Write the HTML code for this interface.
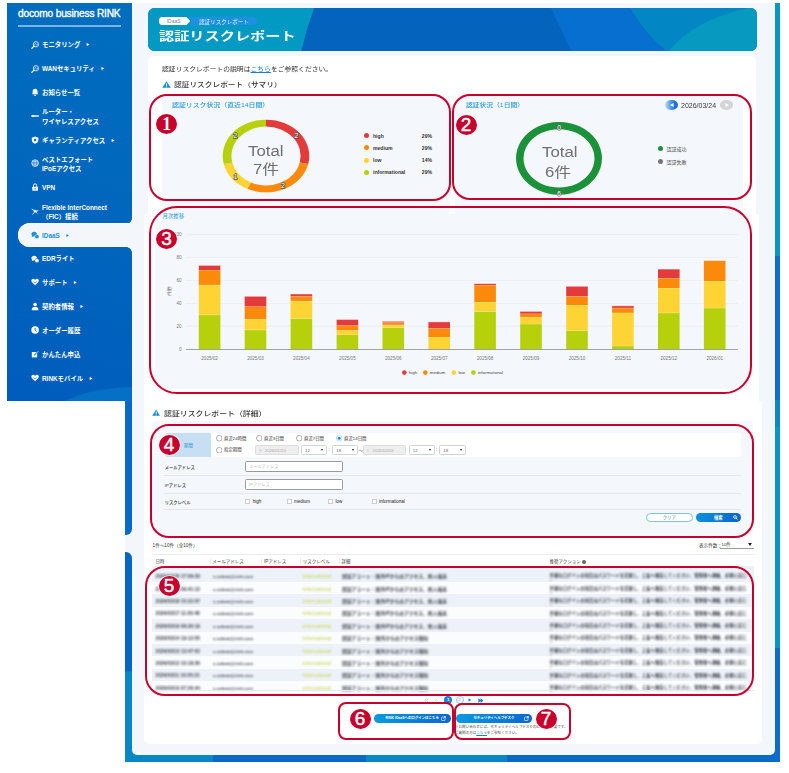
<!DOCTYPE html>
<html lang="ja"><head><meta charset="utf-8">
<style>
*{box-sizing:border-box;margin:0;padding:0}
html,body{width:789px;height:773px;overflow:hidden;background:#fff}
body{position:relative;font-family:"Liberation Sans","Noto Sans CJK JP",sans-serif;color:#333}
.a{position:absolute}
/* frame */
#frame{left:125px;top:3px;width:655px;height:759px;background:#0869c6}
#rstrip{left:774.7px;top:3px;width:5.3px;height:759px;background:linear-gradient(180deg,#0a96c2 0,#0a96c2 252.7px,#0a6fca 252.7px,#0a6fca 397.5px,#0a88c2 397.5px,#0a88c2 424px,#0a96c4 424px,#0a96c4 645.4px,#0a6ccb 645.4px)}
#lstrip1{left:125px;top:395px;width:7px;height:140px;background:#0869c6;border-bottom-right-radius:6px}
#lstrip2{left:125px;top:552px;width:7px;height:210px;background:linear-gradient(180deg,#0666c6 0,#0666c6 118.5px,#0887c4 120px);border-top-right-radius:6px}
#bg{left:132px;top:3px;width:642.7px;height:752px;background:#f3f7fb;border-radius:0 0 5px 5px}
/* sidebar */
#side{left:7px;top:3px;width:125px;height:398px;background:linear-gradient(200deg,#006ebf 0%,#0068bd 40%,#005cbd 100%);overflow:hidden}
#side .ttl{position:absolute;left:11px;top:5px;font-size:10.2px;color:#fff;letter-spacing:-0.2px;white-space:nowrap;-webkit-text-stroke:0.35px #fff}
#side .ln{position:absolute;left:11px;top:22.3px;width:103px;height:1.6px;background:#7db3e6}
.mi{position:absolute;left:24px;color:#fff;font-weight:bold;font-size:6.4px;line-height:9.2px;white-space:nowrap}
.mi .ic{position:absolute;left:-0.5px;width:8.2px;height:8.2px;margin-top:-0.8px}
.mi .tx{position:absolute;left:11px;top:0}
.car{font-size:3.2px;margin-left:6px;vertical-align:1px}
#pill{left:11px;top:220.3px;width:114px;height:24px;background:#f3f7fb;border-radius:12px 0 0 12px;box-shadow:inset 1px 1px 0 #fff,inset 0 -1px 0 #fff}
#cut1{left:113px;top:208px;width:12px;height:14px;background:#f3f7fb}
#cut2{left:113px;top:243px;width:12px;height:14px;background:#f3f7fb}

.red{position:absolute;border:2px solid #c8002d;border-radius:14px}
.badge{position:absolute;width:21px;height:20px;border-radius:50%;background:#c8002d;color:#fff;font-family:"Liberation Sans",sans-serif;font-size:19px;line-height:20.5px;text-align:center;box-shadow:0 0 0 0.8px rgba(255,255,255,.7);-webkit-text-stroke:0.45px #fff}
.card{position:absolute;background:#fff}
.panel{position:absolute;background:#f4f7fb}
.t6{font-size:6.4px;white-space:nowrap}

.dtxt{font-size:14px;color:#707070;white-space:nowrap;transform:scaleX(1.2);transform-origin:0 0}
.lg{font-size:5.1px;font-weight:bold;color:#333;white-space:nowrap;width:68px;line-height:6px}
.lg i{display:inline-block;width:5px;height:5px;border-radius:50%;margin-right:4px;vertical-align:-0.5px}
.lg b{position:absolute;right:0;top:0}
.lg2{font-size:5px;color:#444;white-space:nowrap;line-height:6px}
.lg2 i{display:inline-block;width:5px;height:5px;border-radius:50%;margin-right:4px;vertical-align:0}

.fl{position:absolute;font-size:4.3px;color:#333;font-weight:500;white-space:nowrap}
.rd{position:absolute;font-size:4.4px;color:#333;white-space:nowrap;line-height:6px}
.rd svg{position:absolute;left:-8.2px;top:-0.3px}
.sel{position:absolute;height:10.7px;border:0.6px solid #d0d4d8;border-radius:1.5px;background:#fff;font-size:4.4px;color:#666;line-height:9.5px;padding-left:3px}
.sel::after{content:"";position:absolute;right:3px;top:3.8px;border:1.9px solid transparent;border-top:2.4px solid #222;border-bottom:0}
.din{position:absolute;height:10.7px;border:0.6px solid #dcdcdc;border-radius:1.5px;background:#eeeeee;font-size:4.2px;color:#aaa;line-height:9.5px;padding-left:9px}
.din::before{content:"";position:absolute;left:3.3px;top:3.6px;width:2.6px;height:2.6px;background:#e0e0e0}
.inp{position:absolute;height:10.8px;border:0.8px solid #9a9a9a;border-radius:1.5px;background:#fff;font-size:4.2px;color:#bbb;line-height:9.4px;padding-left:3.5px;white-space:nowrap}
.cb{position:absolute;font-size:4.5px;color:#222;white-space:nowrap;line-height:5px;font-weight:500}
.cb i{position:absolute;left:-7px;top:0.2px;width:4.3px;height:4.3px;border:0.45px solid #777;border-radius:0.6px;background:#fff}
.sep{position:absolute;height:0.6px;background:#e4e7eb}

.th{position:absolute;font-size:4.5px;color:#3a3a3a;white-space:nowrap;font-weight:400}
.bl{position:absolute;height:4px;border-radius:2px;filter:blur(1.3px)}

.bt{position:absolute;font-size:4.8px;line-height:5px;color:#3a3f46;font-weight:bold;white-space:nowrap;filter:blur(1.15px)}
</style></head><body>
<div id="frame" class="a"></div>
<div id="bot1" class="a" style="left:125px;top:740px;width:382px;height:22px;background:linear-gradient(90deg,#0887c4 0,#0887c4 88px,#0a68c6 88px,#0a68c6 241px,#0887c4 241px)"></div>
<div id="bot2" class="a" style="left:507px;top:740px;width:273px;height:22px;background:#0869c6"></div>
<div id="rstrip" class="a"></div>
<div id="lgap" class="a" style="left:125px;top:520px;width:7px;height:50px;background:#f3f7fb"></div>
<div id="lstrip1" class="a"></div>
<div id="lstrip2" class="a"></div>
<div id="bg" class="a"></div>

<div id="side" class="a">
  <div class="ttl">docomo business RINK</div>
  <div class="ln"></div>
  <div id="pill" class="a"></div>
  <div class="a" style="left:119px;top:214.5px;width:6px;height:6px;background:radial-gradient(circle at 0 0,transparent 5.6px,#f3f7fb 6.2px)"></div>
  <div class="a" style="left:119px;top:244px;width:6px;height:6px;background:radial-gradient(circle at 0 100%,transparent 5.6px,#f3f7fb 6.2px)"></div>
  <div class="a" style="left:45px;top:384px;width:170px;height:60px;background:#0570c6;border-radius:50%"></div>
  <div class="mi" style="top:37.3px"><svg class="ic" viewBox="0 0 10 10" style="top:1px"><circle cx="6" cy="4" r="3.2" fill="none" stroke="#fff" stroke-width="1"/><path d="M3.7 6.3L1 9" stroke="#fff" stroke-width="1.5" stroke-linecap="round"/><path d="M3.6 4.2h1.2l.8-1.4 1 2.4.7-1h1.2" stroke="#fff" stroke-width=".6" fill="none"/></svg><div class="tx">モニタリング<span class="car">&#9654;</span></div></div>
  <div class="mi" style="top:61.3px"><svg class="ic" viewBox="0 0 10 10" style="top:1px"><circle cx="6" cy="4" r="3.2" fill="none" stroke="#fff" stroke-width="1"/><path d="M3.7 6.3L1 9" stroke="#fff" stroke-width="1.5" stroke-linecap="round"/><path d="M3.6 4.2h1.2l.8-1.4 1 2.4.7-1h1.2" stroke="#fff" stroke-width=".6" fill="none"/></svg><div class="tx">WANセキュリティ<span class="car">&#9654;</span></div></div>
  <div class="mi" style="top:84.9px"><svg class="ic" viewBox="0 0 10 10" style="top:1px"><path d="M5 1c2 0 3 1.5 3 3.5v2l1 1.2H1l1-1.2v-2C2 2.5 3 1 5 1z" fill="#fff"/><circle cx="5" cy="9" r="1" fill="#fff"/></svg><div class="tx">お知らせ一覧</div></div>
  <div class="mi" style="top:104.3px"><svg class="ic" viewBox="0 0 10 10" style="top:5px"><rect x="0.5" y="3.6" width="9" height="2.6" rx=".4" fill="#e8f0fa"/><rect x="4.5" y="4.4" width="1" height="1" fill="#0866c4"/><rect x="6.3" y="4.4" width="1" height="1" fill="#0866c4"/><rect x="8" y="4.4" width=".8" height="1" fill="#0866c4"/></svg><div class="tx">ルーター・<br>ワイヤレスアクセス</div></div>
  <div class="mi" style="top:132.5px"><svg class="ic" viewBox="0 0 10 10" style="top:1px"><path d="M5 .5l4 1.5v3c0 2.5-2 4-4 4.5C3 9 1 7.5 1 5V2z" fill="#fff"/><circle cx="5" cy="4.8" r="1.5" fill="#0866c4"/></svg><div class="tx">ギャランティアクセス<span class="car">&#9654;</span></div></div>
  <div class="mi" style="top:151.5px"><svg class="ic" viewBox="0 0 10 10" style="top:5px"><circle cx="5" cy="5" r="4" fill="none" stroke="#fff" stroke-width="1"/><path d="M1 5h8M5 1v8M2 3h6M2 7h6" stroke="#fff" stroke-width=".7"/></svg><div class="tx">ベストエフォート<br>IPoEアクセス</div></div>
  <div class="mi" style="top:179.9px"><svg class="ic" viewBox="0 0 10 10" style="top:1px"><rect x="1.5" y="4.5" width="7" height="5" rx=".8" fill="#fff"/><path d="M3 4.8V3a2 2 0 014 0v1.8" fill="none" stroke="#fff" stroke-width="1.2"/><rect x="4.5" y="6" width="1" height="2" fill="#0866c4"/></svg><div class="tx">VPN</div></div>
  <div class="mi" style="top:199.8px"><svg class="ic" viewBox="0 0 10 10" style="top:5px"><path d="M1 2.5l3 1.8M9 4.5l-3 .5M4 6.5l-2 2.5M6.2 6.4l1.5 1.2" stroke="#fff" stroke-width="1.1" fill="none"/><circle cx="5" cy="5.2" r="1.6" fill="#fff"/></svg><div class="tx">Flexible InterConnect<br>（FIC）接続</div></div>
  <div class="mi" style="top:227.7px;color:#1d8fd6"><svg class="ic" viewBox="0 0 10 10" style="top:1px"><path d="M0.5 3.8C0.5 1.9 2 .8 3.9 .8S7.3 1.9 7.3 3.8 5.8 6.8 3.9 6.8c-.5 0-1-.1-1.4-.2L.8 7.6l.6-1.6C.8 5.4.5 4.6.5 3.8z" fill="#1d8fd6"/><path d="M4.6 6.9c0-1.5 1.2-2.6 2.6-2.6s2.6 1.1 2.6 2.6c0 .6-.2 1.1-.5 1.5l.5 1.3-1.4-.7c-.4.2-.8.3-1.2.3-1.4 0-2.6-1-2.6-2.4z" fill="#1d8fd6" stroke="#f3f7fb" stroke-width=".7"/></svg><div class="tx">IDaaS<span class="car">&#9654;</span></div></div>
  <div class="mi" style="top:251.3px"><svg class="ic" viewBox="0 0 10 10" style="top:1px"><path d="M0.5 3.8C0.5 1.9 2 .8 3.9 .8S7.3 1.9 7.3 3.8 5.8 6.8 3.9 6.8c-.5 0-1-.1-1.4-.2L.8 7.6l.6-1.6C.8 5.4.5 4.6.5 3.8z" fill="#fff"/><path d="M4.6 6.9c0-1.5 1.2-2.6 2.6-2.6s2.6 1.1 2.6 2.6c0 .6-.2 1.1-.5 1.5l.5 1.3-1.4-.7c-.4.2-.8.3-1.2.3-1.4 0-2.6-1-2.6-2.4z" fill="#fff" stroke="#0864c3" stroke-width=".7"/></svg><div class="tx">EDRライト</div></div>
  <div class="mi" style="top:275.1px"><svg class="ic" viewBox="0 0 10 10" style="top:1px"><path d="M5 9L1.2 5.2C-.2 3.8.5 1 2.8 1 4 1 4.6 1.8 5 2.4 5.4 1.8 6 1 7.2 1c2.3 0 3 2.8 1.6 4.2z" fill="#fff"/><path d="M3 4.5l2 1.5 2-1.5" stroke="#0866c4" stroke-width=".8" fill="none"/></svg><div class="tx">サポート<span class="car">&#9654;</span></div></div>
  <div class="mi" style="top:299.2px"><svg class="ic" viewBox="0 0 10 10" style="top:1px"><circle cx="5" cy="3" r="2.2" fill="#fff"/><path d="M.8 10c0-3 1.8-4.3 4.2-4.3S9.2 7 9.2 10z" fill="#fff"/></svg><div class="tx">契約者情報<span class="car">&#9654;</span></div></div>
  <div class="mi" style="top:322.5px"><svg class="ic" viewBox="0 0 10 10" style="top:1px"><circle cx="5" cy="5" r="4.6" fill="#fff"/><path d="M5 2.3V5.3l2 1.3" stroke="#0866c4" stroke-width="1.1" fill="none"/></svg><div class="tx">オーダー履歴</div></div>
  <div class="mi" style="top:346.9px"><svg class="ic" viewBox="0 0 10 10" style="top:1px"><rect x="1" y="2.5" width="6.5" height="6.5" fill="#fff"/><path d="M4 6.5l4.8-4.8" stroke="#0866c4" stroke-width="1.6"/><path d="M4.3 6.2l4.8-4.8" stroke="#fff" stroke-width=".8"/></svg><div class="tx">かんたん申込</div></div>
  <div class="mi" style="top:370.5px"><svg class="ic" viewBox="0 0 10 10" style="top:1px"><path d="M5 9L1.2 5.2C-.2 3.8.5 1 2.8 1 4 1 4.6 1.8 5 2.4 5.4 1.8 6 1 7.2 1c2.3 0 3 2.8 1.6 4.2z" fill="#fff"/><path d="M3 4.5l2 1.5 2-1.5" stroke="#0866c4" stroke-width=".8" fill="none"/></svg><div class="tx">RINKモバイル<span class="car">&#9654;</span></div></div>
</div>


<!-- header banner -->
<div class="a" style="left:148px;top:7.5px;width:608.5px;height:43.5px;border-radius:6.5px;overflow:hidden">
<svg width="609" height="44" viewBox="0 0 609 44" style="position:absolute;left:0;top:0">
<rect width="609" height="44" fill="#0463bc"/>
<path d="M0 0H166Q158 22 153 44H0z" fill="#029ac3"/>
<path d="M403 0H482Q500 30 520 44H424Q412 20 403 0z" fill="#066fcf"/>
<path d="M482 0H609V44H520Q500 30 482 0z" fill="#0386c4"/>
<path d="M520 44Q545 12 600 0H609V44z" fill="#0899c1"/>
</svg>
<div class="a" style="left:10.5px;top:9.3px;width:31.8px;height:8.4px;background:#fff;clip-path:polygon(0 0,87% 0,100% 50%,87% 100%,0 100%);border-radius:4px 0 0 4px"></div>
<div class="a" style="left:10.5px;top:9.3px;width:27px;height:8.4px;background:#fff;border-radius:4.2px"></div>
<div class="a" style="left:18.7px;top:10.3px;font-size:5px;color:#7a8a99">IDaaS</div>
<div class="a" style="left:40px;top:9.3px;width:69.2px;height:8.4px;background:#1e90e0;border-radius:0 4.2px 4.2px 0;clip-path:polygon(0 0,100% 0,100% 100%,0 100%,4px 50%)"></div>
<div class="a" style="left:51px;top:10.3px;font-size:5.2px;color:#eaf6ff;white-space:nowrap;transform:scaleX(1.07);transform-origin:0 0">認証リスクレポート</div>
<div class="a" style="left:11px;top:19.7px;font-size:12px;font-weight:bold;color:#fff;white-space:nowrap;transform:scaleX(1.265);transform-origin:0 0">認証リスクレポート</div>
</div>

<!-- section A card -->
<div class="card" style="left:147.5px;top:56px;width:608.5px;height:160px;border-radius:6px 6px 0 0"></div>
<div class="a t6" style="left:162px;top:63.8px;color:#333;font-size:6.2px;transform:scaleX(1.1);transform-origin:0 0">認証リスクレポートの説明は<span style="color:#1a7fd0;text-decoration:underline">こちら</span>をご参照ください。</div>
<svg class="a" style="left:161.8px;top:80.8px" width="9" height="7" viewBox="0 0 9 7"><path d="M4.5 0.3L8.8 6.8H0.2z" fill="#1a8fd4"/><rect x="4" y="2.3" width="1" height="2.6" fill="#fff"/><rect x="4" y="5.4" width="1" height="0.9" fill="#fff"/></svg>
<div class="a" style="left:173.8px;top:79.3px;font-size:6.7px;color:#333;font-weight:500;white-space:nowrap;transform:scaleX(1.15);transform-origin:0 0">認証リスクレポート（サマリ）</div>
<div class="panel" style="left:161.5px;top:95.5px;width:288.5px;height:118.2px;border-radius:4px"></div>
<div class="panel" style="left:455px;top:95.5px;width:288px;height:118.2px;border-radius:4px"></div>


<svg class="a" style="left:0;top:0" width="789" height="773" viewBox="0 0 789 773">
<path d="M266.00 119.70A43.3 36.3 0 0 1 308.21 164.08L299.73 162.56A34.6 29.5 0 0 0 266.00 126.50Z" fill="#e33b3b"/><path d="M308.21 164.08A43.3 36.3 0 0 1 247.21 188.71L250.99 182.58A34.6 29.5 0 0 0 299.73 162.56Z" fill="#fb8a0a"/><path d="M247.21 188.71A43.3 36.3 0 0 1 223.79 164.08L232.27 162.56A34.6 29.5 0 0 0 250.99 182.58Z" fill="#fdd433"/><path d="M223.79 164.08A43.3 36.3 0 0 1 266.00 119.70L266.00 126.50A34.6 29.5 0 0 0 232.27 162.56Z" fill="#b6d00b"/>
<g font-family="Liberation Sans" font-size="7" fill="#fff" stroke="#555" stroke-width="1.3" paint-order="stroke" text-anchor="middle"><text x="296.5" y="138.1">2</text><text x="282.9" y="188.2">2</text><text x="235.5" y="179.1">1</text><text x="235.5" y="138.1">2</text></g>
<path d="M559 121.9A43 36.4 0 1 1 558.99 121.9M559 129.2A35.5 29.2 0 1 0 559.01 129.2Z" fill="#1b9139" fill-rule="evenodd"/>
<g font-family="Liberation Sans" font-size="6.5" fill="#fff" stroke="#666" stroke-width="1.2" paint-order="stroke" text-anchor="middle"><text x="559" y="129.6">0</text><text x="559" y="196">6</text></g>
</svg>
<div class="a" style="left:172px;top:99.8px;font-size:5.9px;color:#2a9ad6;font-weight:500;white-space:nowrap;transform:scaleX(1.17);transform-origin:0 0">認証リスク状況（直近14日間）</div>
<div class="a" style="left:465.5px;top:99.8px;font-size:5.9px;color:#2a9ad6;font-weight:500;white-space:nowrap;transform:scaleX(1.15);transform-origin:0 0">認証状況（1日間）</div>
<div class="a dtxt" style="left:248px;top:142.6px">Total</div>
<div class="a dtxt" style="left:252.5px;top:158px">7件</div>
<div class="a dtxt" style="left:541.5px;top:143.8px">Total</div>
<div class="a dtxt" style="left:545px;top:161.4px">6件</div>
<div class="a lg" style="left:364px;top:132.5px"><i style="background:#e33b3b"></i>high<b>29%</b></div>
<div class="a lg" style="left:364px;top:144.8px"><i style="background:#fb8a0a"></i>medium<b>29%</b></div>
<div class="a lg" style="left:364px;top:157px"><i style="background:#fdd433"></i>low<b>14%</b></div>
<div class="a lg" style="left:364px;top:169.2px"><i style="background:#b6d00b"></i>informational<b>29%</b></div>
<div class="a lg2" style="left:657.5px;top:146px"><i style="background:#1b9139"></i>認証成功</div>
<div class="a lg2" style="left:657.5px;top:158.8px"><i style="background:#777"></i>認証失敗</div>
<div class="a" style="left:665.4px;top:99.6px;width:12.6px;height:10.3px;border-radius:50%;background:linear-gradient(90deg,#c0dcf4 0%,#5aa2e6 40%,#1c72d8 75%,#1a6ad4 100%)"></div>
<svg class="a" style="left:668.8px;top:101.8px" width="6" height="6" viewBox="0 0 6 6"><path d="M1 3L4.6 0.9V5.1z" fill="#fff"/></svg>
<div class="a" style="left:681px;top:101.8px;font-size:6.8px;color:#3a3a3a;white-space:nowrap;transform:scaleX(1.03);transform-origin:0 0">2026/03/24</div>
<div class="a" style="left:720px;top:99.6px;width:12.6px;height:10.3px;border-radius:50%;background:#d3d4d6"></div>
<svg class="a" style="left:723.6px;top:101.8px" width="6" height="6" viewBox="0 0 6 6"><path d="M5 3L1.4 0.9V5.1z" fill="#fff"/></svg>


<!-- section B -->
<div class="card" style="left:144.3px;top:213.7px;width:614.7px;height:188px"></div>
<div class="panel" style="left:155px;top:213.7px;width:594px;height:175.7px"></div>
<div class="a" style="left:162.5px;top:212.2px;font-size:5.4px;color:#2a9ad6;white-space:nowrap">月次推移</div>
<svg class="a" style="left:0;top:0" width="789" height="773" viewBox="0 0 789 773"><g font-family="Liberation Sans" font-size="4.6" fill="#777"><line x1="186" y1="234.4" x2="738" y2="234.4" stroke="#e6e9ee" stroke-width="0.6"/><line x1="186" y1="257.4" x2="738" y2="257.4" stroke="#e6e9ee" stroke-width="0.6"/><line x1="186" y1="280.5" x2="738" y2="280.5" stroke="#e6e9ee" stroke-width="0.6"/><line x1="186" y1="303.5" x2="738" y2="303.5" stroke="#e6e9ee" stroke-width="0.6"/><line x1="186" y1="326.2" x2="738" y2="326.2" stroke="#e6e9ee" stroke-width="0.6"/><text x="181.6" y="236.1" text-anchor="end">100</text><text x="181.6" y="259.09999999999997" text-anchor="end">80</text><text x="181.6" y="282.2" text-anchor="end">60</text><text x="181.6" y="305.2" text-anchor="end">40</text><text x="181.6" y="327.9" text-anchor="end">20</text><text x="181.6" y="351.0" text-anchor="end">0</text><rect x="198.8" y="314.8" width="21.6" height="34.5" fill="#b6d00b"/><line x1="198.8" y1="314.8" x2="220.4" y2="314.8" stroke="#fff" stroke-width="0.5" opacity=".8"/><rect x="198.8" y="284.9" width="21.6" height="29.9" fill="#fdd433"/><line x1="198.8" y1="284.9" x2="220.4" y2="284.9" stroke="#fff" stroke-width="0.5" opacity=".8"/><rect x="198.8" y="270" width="21.6" height="14.9" fill="#fb8a0a"/><line x1="198.8" y1="270" x2="220.4" y2="270" stroke="#fff" stroke-width="0.5" opacity=".8"/><rect x="198.8" y="265.4" width="21.6" height="4.6" fill="#e33b3b"/><line x1="198.8" y1="265.4" x2="220.4" y2="265.4" stroke="#fff" stroke-width="0.5" opacity=".8"/><text text-anchor="middle" x="209.6" y="360">2025/02</text><rect x="244.7" y="329.8" width="21.6" height="19.5" fill="#b6d00b"/><line x1="244.7" y1="329.8" x2="266.3" y2="329.8" stroke="#fff" stroke-width="0.5" opacity=".8"/><rect x="244.7" y="319.1" width="21.6" height="10.7" fill="#fdd433"/><line x1="244.7" y1="319.1" x2="266.3" y2="319.1" stroke="#fff" stroke-width="0.5" opacity=".8"/><rect x="244.7" y="306.5" width="21.6" height="12.6" fill="#fb8a0a"/><line x1="244.7" y1="306.5" x2="266.3" y2="306.5" stroke="#fff" stroke-width="0.5" opacity=".8"/><rect x="244.7" y="296.3" width="21.6" height="10.2" fill="#e33b3b"/><line x1="244.7" y1="296.3" x2="266.3" y2="296.3" stroke="#fff" stroke-width="0.5" opacity=".8"/><text text-anchor="middle" x="255.5" y="360">2025/03</text><rect x="290.6" y="318.4" width="21.6" height="30.9" fill="#b6d00b"/><line x1="290.6" y1="318.4" x2="312.2" y2="318.4" stroke="#fff" stroke-width="0.5" opacity=".8"/><rect x="290.6" y="300.9" width="21.6" height="17.5" fill="#fdd433"/><line x1="290.6" y1="300.9" x2="312.2" y2="300.9" stroke="#fff" stroke-width="0.5" opacity=".8"/><rect x="290.6" y="296.3" width="21.6" height="4.6" fill="#fb8a0a"/><line x1="290.6" y1="296.3" x2="312.2" y2="296.3" stroke="#fff" stroke-width="0.5" opacity=".8"/><rect x="290.6" y="294" width="21.6" height="2.3" fill="#e33b3b"/><line x1="290.6" y1="294" x2="312.2" y2="294" stroke="#fff" stroke-width="0.5" opacity=".8"/><text text-anchor="middle" x="301.4" y="360">2025/04</text><rect x="336.6" y="334.7" width="21.6" height="14.6" fill="#b6d00b"/><line x1="336.6" y1="334.7" x2="358.2" y2="334.7" stroke="#fff" stroke-width="0.5" opacity=".8"/><rect x="336.6" y="330.3" width="21.6" height="4.4" fill="#fdd433"/><line x1="336.6" y1="330.3" x2="358.2" y2="330.3" stroke="#fff" stroke-width="0.5" opacity=".8"/><rect x="336.6" y="325.4" width="21.6" height="4.9" fill="#fb8a0a"/><line x1="336.6" y1="325.4" x2="358.2" y2="325.4" stroke="#fff" stroke-width="0.5" opacity=".8"/><rect x="336.6" y="319.5" width="21.6" height="5.9" fill="#e33b3b"/><line x1="336.6" y1="319.5" x2="358.2" y2="319.5" stroke="#fff" stroke-width="0.5" opacity=".8"/><text text-anchor="middle" x="347.4" y="360">2025/05</text><rect x="382.5" y="327.4" width="21.6" height="21.9" fill="#b6d00b"/><line x1="382.5" y1="327.4" x2="404.1" y2="327.4" stroke="#fff" stroke-width="0.5" opacity=".8"/><rect x="382.5" y="324.8" width="21.6" height="2.6" fill="#fdd433"/><line x1="382.5" y1="324.8" x2="404.1" y2="324.8" stroke="#fff" stroke-width="0.5" opacity=".8"/><rect x="382.5" y="322.4" width="21.6" height="2.4" fill="#fb8a0a"/><line x1="382.5" y1="322.4" x2="404.1" y2="322.4" stroke="#fff" stroke-width="0.5" opacity=".8"/><rect x="382.5" y="321.3" width="21.6" height="1.1" fill="#e33b3b"/><line x1="382.5" y1="321.3" x2="404.1" y2="321.3" stroke="#fff" stroke-width="0.5" opacity=".8"/><text text-anchor="middle" x="393.3" y="360">2025/06</text><rect x="428.4" y="337" width="21.6" height="12.3" fill="#fdd433"/><line x1="428.4" y1="337" x2="450.0" y2="337" stroke="#fff" stroke-width="0.5" opacity=".8"/><rect x="428.4" y="328.3" width="21.6" height="8.7" fill="#fb8a0a"/><line x1="428.4" y1="328.3" x2="450.0" y2="328.3" stroke="#fff" stroke-width="0.5" opacity=".8"/><rect x="428.4" y="321.9" width="21.6" height="6.4" fill="#e33b3b"/><line x1="428.4" y1="321.9" x2="450.0" y2="321.9" stroke="#fff" stroke-width="0.5" opacity=".8"/><text text-anchor="middle" x="439.2" y="360">2025/07</text><rect x="474.3" y="311.4" width="21.6" height="37.9" fill="#b6d00b"/><line x1="474.3" y1="311.4" x2="495.9" y2="311.4" stroke="#fff" stroke-width="0.5" opacity=".8"/><rect x="474.3" y="302" width="21.6" height="9.4" fill="#fdd433"/><line x1="474.3" y1="302" x2="495.9" y2="302" stroke="#fff" stroke-width="0.5" opacity=".8"/><rect x="474.3" y="285.1" width="21.6" height="16.9" fill="#fb8a0a"/><line x1="474.3" y1="285.1" x2="495.9" y2="285.1" stroke="#fff" stroke-width="0.5" opacity=".8"/><rect x="474.3" y="283.7" width="21.6" height="1.4" fill="#e33b3b"/><line x1="474.3" y1="283.7" x2="495.9" y2="283.7" stroke="#fff" stroke-width="0.5" opacity=".8"/><text text-anchor="middle" x="485.1" y="360">2025/08</text><rect x="520.2" y="323.9" width="21.6" height="25.4" fill="#b6d00b"/><line x1="520.2" y1="323.9" x2="541.8" y2="323.9" stroke="#fff" stroke-width="0.5" opacity=".8"/><rect x="520.2" y="317.2" width="21.6" height="6.7" fill="#fdd433"/><line x1="520.2" y1="317.2" x2="541.8" y2="317.2" stroke="#fff" stroke-width="0.5" opacity=".8"/><rect x="520.2" y="313.7" width="21.6" height="3.5" fill="#fb8a0a"/><line x1="520.2" y1="313.7" x2="541.8" y2="313.7" stroke="#fff" stroke-width="0.5" opacity=".8"/><rect x="520.2" y="311.4" width="21.6" height="2.3" fill="#e33b3b"/><line x1="520.2" y1="311.4" x2="541.8" y2="311.4" stroke="#fff" stroke-width="0.5" opacity=".8"/><text text-anchor="middle" x="531.0" y="360">2025/09</text><rect x="566.2" y="330.6" width="21.6" height="18.7" fill="#b6d00b"/><line x1="566.2" y1="330.6" x2="587.8" y2="330.6" stroke="#fff" stroke-width="0.5" opacity=".8"/><rect x="566.2" y="305" width="21.6" height="25.6" fill="#fdd433"/><line x1="566.2" y1="305" x2="587.8" y2="305" stroke="#fff" stroke-width="0.5" opacity=".8"/><rect x="566.2" y="296.2" width="21.6" height="8.8" fill="#fb8a0a"/><line x1="566.2" y1="296.2" x2="587.8" y2="296.2" stroke="#fff" stroke-width="0.5" opacity=".8"/><rect x="566.2" y="286.3" width="21.6" height="9.9" fill="#e33b3b"/><line x1="566.2" y1="286.3" x2="587.8" y2="286.3" stroke="#fff" stroke-width="0.5" opacity=".8"/><text text-anchor="middle" x="577.0" y="360">2025/10</text><rect x="612.1" y="345.8" width="21.6" height="3.5" fill="#b6d00b"/><line x1="612.1" y1="345.8" x2="633.7" y2="345.8" stroke="#fff" stroke-width="0.5" opacity=".8"/><rect x="612.1" y="312.8" width="21.6" height="33.0" fill="#fdd433"/><line x1="612.1" y1="312.8" x2="633.7" y2="312.8" stroke="#fff" stroke-width="0.5" opacity=".8"/><rect x="612.1" y="307.9" width="21.6" height="4.9" fill="#fb8a0a"/><line x1="612.1" y1="307.9" x2="633.7" y2="307.9" stroke="#fff" stroke-width="0.5" opacity=".8"/><rect x="612.1" y="305.8" width="21.6" height="2.1" fill="#e33b3b"/><line x1="612.1" y1="305.8" x2="633.7" y2="305.8" stroke="#fff" stroke-width="0.5" opacity=".8"/><text text-anchor="middle" x="622.9" y="360">2025/11</text><rect x="658.0" y="312.8" width="21.6" height="36.5" fill="#b6d00b"/><line x1="658.0" y1="312.8" x2="679.6" y2="312.8" stroke="#fff" stroke-width="0.5" opacity=".8"/><rect x="658.0" y="288" width="21.6" height="24.8" fill="#fdd433"/><line x1="658.0" y1="288" x2="679.6" y2="288" stroke="#fff" stroke-width="0.5" opacity=".8"/><rect x="658.0" y="278.1" width="21.6" height="9.9" fill="#fb8a0a"/><line x1="658.0" y1="278.1" x2="679.6" y2="278.1" stroke="#fff" stroke-width="0.5" opacity=".8"/><rect x="658.0" y="269.1" width="21.6" height="9.0" fill="#e33b3b"/><line x1="658.0" y1="269.1" x2="679.6" y2="269.1" stroke="#fff" stroke-width="0.5" opacity=".8"/><text text-anchor="middle" x="668.8" y="360">2025/12</text><rect x="703.9" y="307.9" width="21.6" height="41.4" fill="#b6d00b"/><line x1="703.9" y1="307.9" x2="725.5" y2="307.9" stroke="#fff" stroke-width="0.5" opacity=".8"/><rect x="703.9" y="281" width="21.6" height="26.9" fill="#fdd433"/><line x1="703.9" y1="281" x2="725.5" y2="281" stroke="#fff" stroke-width="0.5" opacity=".8"/><rect x="703.9" y="260.6" width="21.6" height="20.4" fill="#fb8a0a"/><line x1="703.9" y1="260.6" x2="725.5" y2="260.6" stroke="#fff" stroke-width="0.5" opacity=".8"/><text text-anchor="middle" x="714.7" y="360">2026/01</text><line x1="186" y1="349.5" x2="738" y2="349.5" stroke="#8a8f96" stroke-width="0.8"/><text transform="translate(171 291) rotate(-90)" text-anchor="middle">件数</text><circle cx="404.3" cy="372.6" r="2.3" fill="#e33b3b"/><text x="408.8" y="374.3" fill="#444" font-size="4.4">high</text><circle cx="425.3" cy="372.6" r="2.3" fill="#fb8a0a"/><text x="429.8" y="374.3" fill="#444" font-size="4.4">medium</text><circle cx="453.9" cy="372.6" r="2.3" fill="#fdd433"/><text x="458.4" y="374.3" fill="#444" font-size="4.4">low</text><circle cx="473.4" cy="372.6" r="2.3" fill="#b6d00b"/><text x="477.9" y="374.3" fill="#444" font-size="4.4">informational</text></g></svg>


<!-- section C -->
<div class="card" style="left:144px;top:401px;width:617.5px;height:342.5px;border-radius:0 0 5px 5px"></div>
<svg class="a" style="left:151.7px;top:409.2px" width="8.2" height="7.4" viewBox="0 0 9 7"><path d="M4.5 0.3L8.8 6.8H0.2z" fill="#1a8fd4"/><rect x="4" y="2.3" width="1" height="2.6" fill="#fff"/><rect x="4" y="5.4" width="1" height="0.9" fill="#fff"/></svg>
<div class="a" style="left:163.5px;top:407.6px;font-size:6.8px;color:#333;font-weight:500;white-space:nowrap;transform:scaleX(1.16);transform-origin:0 0">認証リスクレポート（詳細）</div>
<div class="panel" style="left:152.2px;top:420.8px;width:601.3px;height:115.5px;border-radius:4px"></div>
<div class="a" style="left:211.2px;top:432.8px;width:530px;height:24.4px;background:#fff;border-radius:0 2px 2px 0"></div>
<div class="a" style="left:165px;top:432.8px;width:46.2px;height:24.4px;background:#c6dff3;border-radius:3px 0 0 3px"></div>
<div class="a" style="left:184px;top:442.2px;font-size:4.4px;color:#2a8fd0">期間</div>
<div class="rd" style="left:224px;top:435.5px"><svg width="6.4" height="6.4" viewBox="0 0 6.4 6.4"><circle cx="3.2" cy="3.2" r="2.85" fill="#fff" stroke="#777" stroke-width="0.55"/></svg>直近24時間</div>
<div class="rd" style="left:264px;top:435.5px"><svg width="6.4" height="6.4" viewBox="0 0 6.4 6.4"><circle cx="3.2" cy="3.2" r="2.85" fill="#fff" stroke="#777" stroke-width="0.55"/></svg>直近3日間</div>
<div class="rd" style="left:304px;top:435.5px"><svg width="6.4" height="6.4" viewBox="0 0 6.4 6.4"><circle cx="3.2" cy="3.2" r="2.85" fill="#fff" stroke="#777" stroke-width="0.55"/></svg>直近7日間</div>
<div class="rd" style="left:344px;top:435.5px"><svg width="6.4" height="6.4" viewBox="0 0 6.4 6.4"><circle cx="3.2" cy="3.2" r="2.85" fill="#fff" stroke="#8cc8f0" stroke-width="0.6"/><circle cx="3.2" cy="3.2" r="1.5" fill="#1a86dc"/></svg>直近14日間</div>
<div class="rd" style="left:224px;top:447.3px"><svg width="6.4" height="6.4" viewBox="0 0 6.4 6.4"><circle cx="3.2" cy="3.2" r="2.85" fill="#fff" stroke="#777" stroke-width="0.55"/></svg>指定期間</div>
<div class="din" style="left:254.8px;top:444.7px;width:44px">2026/01/20</div>
<div class="sel" style="left:301px;top:444.7px;width:26.2px">12</div>
<div class="a" style="left:328.4px;top:446px;font-size:5px;color:#333">:</div>
<div class="sel" style="left:332.3px;top:444.7px;width:25.3px">18</div>
<div class="a" style="left:358.6px;top:446.5px;font-size:4.5px;color:#333">～</div>
<div class="din" style="left:362.6px;top:444.7px;width:43.8px">2026/02/03</div>
<div class="sel" style="left:408.8px;top:444.7px;width:25.8px">12</div>
<div class="a" style="left:435.8px;top:446px;font-size:5px;color:#333">:</div>
<div class="sel" style="left:439.2px;top:444.7px;width:26.4px">18</div>
<div class="fl" style="left:164.7px;top:464px">メールアドレス</div>
<div class="inp" style="left:244.5px;top:461.3px;width:98px">メールアドレス</div>
<div class="sep" style="left:164px;top:475.2px;width:577px"></div>
<div class="fl" style="left:164.7px;top:482px">IPアドレス</div>
<div class="inp" style="left:244.5px;top:479.4px;width:98px">IPアドレス</div>
<div class="sep" style="left:164px;top:493.3px;width:577px"></div>
<div class="fl" style="left:164.7px;top:499.2px">リスクレベル</div>
<div class="cb" style="left:252.7px;top:499.2px"><svg width="5" height="5" viewBox="0 0 5 5" style="position:absolute;left:-7.3px;top:0"><rect x="0.3" y="0.3" width="4.4" height="4.4" rx="0.5" fill="#fff" stroke="#8a8a8a" stroke-width="0.5"/></svg>high</div>
<div class="cb" style="left:294px;top:499.2px"><svg width="5" height="5" viewBox="0 0 5 5" style="position:absolute;left:-7.3px;top:0"><rect x="0.3" y="0.3" width="4.4" height="4.4" rx="0.5" fill="#fff" stroke="#8a8a8a" stroke-width="0.5"/></svg>medium</div>
<div class="cb" style="left:335.6px;top:499.2px"><svg width="5" height="5" viewBox="0 0 5 5" style="position:absolute;left:-7.3px;top:0"><rect x="0.3" y="0.3" width="4.4" height="4.4" rx="0.5" fill="#fff" stroke="#8a8a8a" stroke-width="0.5"/></svg>low</div>
<div class="cb" style="left:379px;top:499.2px"><svg width="5" height="5" viewBox="0 0 5 5" style="position:absolute;left:-7.3px;top:0"><rect x="0.3" y="0.3" width="4.4" height="4.4" rx="0.5" fill="#fff" stroke="#8a8a8a" stroke-width="0.5"/></svg>informational</div>
<div class="sep" style="left:164px;top:509px;width:577px"></div>
<div class="a" style="left:645.9px;top:512.6px;width:46.8px;height:9.8px;border:0.8px solid #7cc0ea;border-radius:5px;background:#fff;font-size:4.4px;color:#5a7f99;text-align:center;line-height:8.4px">クリア</div>
<div class="a" style="left:695.5px;top:512.6px;width:45.7px;height:9.8px;border-radius:5px;background:linear-gradient(90deg,#0a92da,#0a63cf);font-size:4.4px;color:#fff;font-weight:bold;text-align:center;line-height:9.8px">検索</div>
<svg class="a" style="left:733px;top:515.3px" width="5" height="5" viewBox="0 0 10 10"><circle cx="4" cy="4" r="2.8" fill="none" stroke="#fff" stroke-width="1.6"/><path d="M6 6l3 3" stroke="#fff" stroke-width="1.8"/></svg>


<div class="a" style="left:152.6px;top:542.3px;font-size:4.6px;color:#333;white-space:nowrap">1件～10件（全10件）</div>
<div class="a" style="left:699px;top:542.3px;font-size:4.6px;color:#333;white-space:nowrap">表示件数：</div>
<div class="a" style="left:719.6px;top:540.8px;width:34.2px;height:7.8px;border-bottom:0.7px solid #9a9a9a;font-size:4.3px;color:#333;padding-left:2px;line-height:7.2px">10件</div>
<svg class="a" style="left:747.8px;top:543.2px" width="4" height="3" viewBox="0 0 4 3"><path d="M0 0H4L2 3z" fill="#222"/></svg>
<div class="sep" style="left:152px;top:553.8px;width:602px;background:#e8ebee"></div>
<div class="a" style="left:209.6px;top:557.5px;width:0.5px;height:6px;background:#eceef1"></div><div class="a" style="left:261px;top:557.5px;width:0.5px;height:6px;background:#eceef1"></div><div class="a" style="left:299.6px;top:557.5px;width:0.5px;height:6px;background:#eceef1"></div><div class="a" style="left:339px;top:557.5px;width:0.5px;height:6px;background:#eceef1"></div>
<div class="th" style="left:155.6px;top:558.2px">日時</div>
<div class="th" style="left:212.2px;top:558.2px">メールアドレス</div>
<div class="th" style="left:264.1px;top:558.2px">IPアドレス</div>
<div class="th" style="left:302.7px;top:558.2px">リスクレベル</div>
<div class="th" style="left:341.5px;top:558.2px">詳細</div>
<div class="th" style="left:549.6px;top:558.2px">推奨アクション <span style="display:inline-block;width:4px;height:4px;border-radius:50%;background:#666;vertical-align:-0.6px"></span></div>
<div class="a" style="left:152px;top:566.0px;width:602px;height:16.0px;background:#edf2f9"></div>
<div class="a" style="left:152px;top:582.0px;width:602px;height:12.4px;background:#fbfcfe"></div>
<div class="a" style="left:152px;top:594.4px;width:602px;height:12.4px;background:#edf2f9"></div>
<div class="a" style="left:152px;top:606.8px;width:602px;height:12.4px;background:#fbfcfe"></div>
<div class="a" style="left:152px;top:619.2px;width:602px;height:12.4px;background:#edf2f9"></div>
<div class="a" style="left:152px;top:631.6px;width:602px;height:12.4px;background:#fbfcfe"></div>
<div class="a" style="left:152px;top:644.0px;width:602px;height:12.4px;background:#edf2f9"></div>
<div class="a" style="left:152px;top:656.4px;width:602px;height:12.4px;background:#fbfcfe"></div>
<div class="a" style="left:152px;top:668.8px;width:602px;height:12.4px;background:#edf2f9"></div>
<div class="a" style="left:152px;top:681.2px;width:602px;height:12.4px;background:#fbfcfe"></div>
<div class="bt" style="left:155.5px;top:574.2px">2026/03/20 17:09:33</div>
<div class="bt" style="left:213px;top:574.2px;font-size:4.4px">u.sakata@rink.com</div>
<div class="bt" style="left:302.5px;top:574.2px;color:#c2d64a;font-weight:normal;font-size:5px">informational</div>
<div class="bt" style="left:342px;top:574.2px">認証アラート：国外IPからのアクセス、他人端末</div>
<div class="bt" style="left:549.5px;top:573.4px;font-size:4.4px">不審なログインの場合はパスワードを変更し、上長へ報告してください。管理者へ連絡、必要に応じ</div>
<div class="bt" style="left:549.5px;top:578.2px;font-size:3px;color:#aaa">す</div>
<div class="bt" style="left:155.5px;top:586.6px">2026/03/19 09:41:12</div>
<div class="bt" style="left:213px;top:586.6px;font-size:4.4px">u.sakata@rink.com</div>
<div class="bt" style="left:302.5px;top:586.6px;color:#c2d64a;font-weight:normal;font-size:5px">informational</div>
<div class="bt" style="left:342px;top:586.6px">認証アラート：国外IPからのアクセス、他人端末</div>
<div class="bt" style="left:549.5px;top:585.8px;font-size:4.4px">不審なログインの場合はパスワードを変更し、上長へ報告してください。管理者へ連絡、必要に応じ</div>
<div class="bt" style="left:549.5px;top:590.6px;font-size:3px;color:#aaa">す</div>
<div class="bt" style="left:155.5px;top:599.0px">2026/03/18 15:22:07</div>
<div class="bt" style="left:213px;top:599.0px;font-size:4.4px">u.sakata@rink.com</div>
<div class="bt" style="left:302.5px;top:599.0px;color:#c2d64a;font-weight:normal;font-size:5px">informational</div>
<div class="bt" style="left:342px;top:599.0px">認証アラート：国外IPからのアクセス、他人端末</div>
<div class="bt" style="left:549.5px;top:598.2px;font-size:4.4px">不審なログインの場合はパスワードを変更し、上長へ報告してください。管理者へ連絡、必要に応じ</div>
<div class="bt" style="left:549.5px;top:603.0px;font-size:3px;color:#aaa">す</div>
<div class="bt" style="left:155.5px;top:611.4px">2026/03/17 11:05:48</div>
<div class="bt" style="left:213px;top:611.4px;font-size:4.4px">u.sakata@rink.com</div>
<div class="bt" style="left:302.5px;top:611.4px;color:#c2d64a;font-weight:normal;font-size:5px">informational</div>
<div class="bt" style="left:342px;top:611.4px">認証アラート：国外IPからのアクセス、他人端末</div>
<div class="bt" style="left:549.5px;top:610.6px;font-size:4.4px">不審なログインの場合はパスワードを変更し、上長へ報告してください。管理者へ連絡、必要に応じ</div>
<div class="bt" style="left:549.5px;top:615.4px;font-size:3px;color:#aaa">す</div>
<div class="bt" style="left:155.5px;top:623.8px">2026/03/16 08:30:19</div>
<div class="bt" style="left:213px;top:623.8px;font-size:4.4px">u.sakata@rink.com</div>
<div class="bt" style="left:302.5px;top:623.8px;color:#c2d64a;font-weight:normal;font-size:5px">informational</div>
<div class="bt" style="left:342px;top:623.8px">認証アラート：国外IPからのアクセス、他人端末</div>
<div class="bt" style="left:549.5px;top:623.0px;font-size:4.4px">不審なログインの場合はパスワードを変更し、上長へ報告してください。管理者へ連絡、必要に応じ</div>
<div class="bt" style="left:549.5px;top:627.8px;font-size:3px;color:#aaa">す</div>
<div class="bt" style="left:155.5px;top:636.2px">2026/03/14 19:12:55</div>
<div class="bt" style="left:213px;top:636.2px;font-size:4.4px">u.sakata@rink.com</div>
<div class="bt" style="left:302.5px;top:636.2px;color:#c2d64a;font-weight:normal;font-size:5px">informational</div>
<div class="bt" style="left:342px;top:636.2px">認証アラート：国外からのアクセス検知</div>
<div class="bt" style="left:549.5px;top:635.4px;font-size:4.4px">不審なログインの場合はパスワードを変更し、上長へ報告してください。管理者へ連絡、必要に応じ</div>
<div class="bt" style="left:549.5px;top:640.2px;font-size:3px;color:#aaa">す</div>
<div class="bt" style="left:155.5px;top:648.6px">2026/03/13 13:47:02</div>
<div class="bt" style="left:213px;top:648.6px;font-size:4.4px">u.sakata@rink.com</div>
<div class="bt" style="left:302.5px;top:648.6px;color:#c2d64a;font-weight:normal;font-size:5px">informational</div>
<div class="bt" style="left:342px;top:648.6px">認証アラート：国外からのアクセス検知</div>
<div class="bt" style="left:549.5px;top:647.8px;font-size:4.4px">不審なログインの場合はパスワードを変更し、上長へ報告してください。管理者へ連絡、必要に応じ</div>
<div class="bt" style="left:549.5px;top:652.6px;font-size:3px;color:#aaa">す</div>
<div class="bt" style="left:155.5px;top:661.0px">2026/03/12 10:18:36</div>
<div class="bt" style="left:213px;top:661.0px;font-size:4.4px">u.sakata@rink.com</div>
<div class="bt" style="left:302.5px;top:661.0px;color:#c2d64a;font-weight:normal;font-size:5px">informational</div>
<div class="bt" style="left:342px;top:661.0px">認証アラート：国外からのアクセス検知</div>
<div class="bt" style="left:549.5px;top:660.2px;font-size:4.4px">不審なログインの場合はパスワードを変更し、上長へ報告してください。管理者へ連絡、必要に応じ</div>
<div class="bt" style="left:549.5px;top:665.0px;font-size:3px;color:#aaa">す</div>
<div class="bt" style="left:155.5px;top:673.4px">2026/03/11 16:55:21</div>
<div class="bt" style="left:213px;top:673.4px;font-size:4.4px">u.sakata@rink.com</div>
<div class="bt" style="left:302.5px;top:673.4px;color:#c2d64a;font-weight:normal;font-size:5px">informational</div>
<div class="bt" style="left:342px;top:673.4px">認証アラート：国外からのアクセス検知</div>
<div class="bt" style="left:549.5px;top:672.6px;font-size:4.4px">不審なログインの場合はパスワードを変更し、上長へ報告してください。管理者へ連絡、必要に応じ</div>
<div class="bt" style="left:549.5px;top:677.4px;font-size:3px;color:#aaa">す</div>
<div class="bt" style="left:155.5px;top:685.8px">2026/03/10 07:26:44</div>
<div class="bt" style="left:213px;top:685.8px;font-size:4.4px">u.sakata@rink.com</div>
<div class="bt" style="left:302.5px;top:685.8px;color:#c2d64a;font-weight:normal;font-size:5px">informational</div>
<div class="bt" style="left:342px;top:685.8px">認証アラート：国外からのアクセス検知</div>
<div class="bt" style="left:549.5px;top:685.0px;font-size:4.4px">不審なログインの場合はパスワードを変更し、上長へ報告してください。管理者へ連絡、必要に応じ</div>
<div class="bt" style="left:549.5px;top:689.8px;font-size:3px;color:#aaa">す</div>
<div class="a" style="left:152px;top:690.2px;width:602px;height:0.6px;background:#e4e7eb"></div>
<!-- pagination -->
<svg class="a" style="left:423.5px;top:697.8px" width="5" height="5" viewBox="0 0 5 5"><path d="M2.3 0.6L0.6 2.5L2.3 4.4M4.4 0.6L2.7 2.5L4.4 4.4" stroke="#c4c7cb" stroke-width="0.8" fill="none"/></svg>
<svg class="a" style="left:434.8px;top:697.8px" width="3" height="5" viewBox="0 0 3 5"><path d="M2.2 0.8L0.8 2.5L2.2 4.2" stroke="#c4c7cb" stroke-width="0.7" fill="none"/></svg>
<div class="a" style="left:444.3px;top:696.2px;width:8px;height:8px;border-radius:50%;background:#1c7fd8;color:#fff;font-size:4.4px;line-height:8px;text-align:center;font-weight:bold">1</div>
<div class="a" style="left:455.5px;top:696.2px;width:8px;height:8px;border-radius:50%;border:0.7px solid #8cc4ee;background:#fff;color:#4a9ad8;font-size:4.4px;line-height:6.6px;text-align:center">2</div>
<svg class="a" style="left:467.6px;top:698.3px" width="4" height="4" viewBox="0 0 4 4"><path d="M0.5 0.3L3.3 2L0.5 3.7z" fill="#1c7fd8"/></svg>
<svg class="a" style="left:477.5px;top:697.6px" width="6" height="5.2" viewBox="0 0 6 5.2"><path d="M0.3 0.3L3.2 2.6L0.3 4.9z M2.6 0.3L5.5 2.6L2.6 4.9z" fill="#1c7fd8"/></svg>
<!-- bottom buttons -->
<div class="a" style="left:373.7px;top:713.6px;width:76.9px;height:9.4px;border-radius:4.7px;background:linear-gradient(90deg,#0a9ade,#0a67d0);color:#fff;font-size:3.45px;line-height:9.4px;padding-left:11.9px;white-space:nowrap;font-weight:bold">RINK IDaaSへのログインはこちら</div>
<svg class="a" style="left:440.5px;top:715.8px" width="5" height="5" viewBox="0 0 10 10"><rect x="1" y="2" width="7" height="7" rx="1" fill="none" stroke="#fff" stroke-width="1.2"/><path d="M5 5L9 1M6 1h3v3" stroke="#fff" stroke-width="1.2" fill="none"/></svg>
<div class="a" style="left:455.6px;top:714px;width:76.7px;height:8.8px;border-radius:4.4px;background:linear-gradient(90deg,#0a9ade,#0a67d0);color:#fff;font-size:3.45px;line-height:8.8px;padding-left:17.8px;white-space:nowrap;font-weight:bold">セキュリティヘルプデスク</div>
<svg class="a" style="left:523.8px;top:715.8px" width="5" height="5" viewBox="0 0 10 10"><rect x="1" y="2" width="7" height="7" rx="1" fill="none" stroke="#fff" stroke-width="1.2"/><path d="M5 5L9 1M6 1h3v3" stroke="#fff" stroke-width="1.2" fill="none"/></svg>
<div class="a" style="left:455px;top:723.8px;font-size:3.55px;color:#444;white-space:nowrap;line-height:6.1px">※お問い合わせには、セキュリティヘルプデスクのID/PWが必要です。<br>ご質問の方は<span style="color:#1a7fd0;text-decoration:underline">こちら</span>をご参照ください。</div>

<!-- annotations -->
<div class="red" style="left:149.2px;top:94.2px;width:302.0px;height:106.4px;border-radius:18px"></div>
<div class="red" style="left:451.8px;top:94.4px;width:300.6px;height:105.8px;border-radius:18px"></div>
<div class="red" style="left:149.4px;top:205.6px;width:603.0px;height:188.4px;border-radius:28px"></div>
<div class="red" style="left:149.8px;top:423.6px;width:603.8px;height:114.4px;border-radius:19px"></div>
<div class="red" style="left:144.8px;top:566.4px;width:608.8px;height:129.6px;border-radius:20px"></div>
<div class="red" style="left:338px;top:702.2px;width:116.2px;height:37.4px;border-radius:8px"></div>
<div class="red" style="left:453.6px;top:702.6px;width:117.0px;height:37.6px;border-radius:8px"></div>
<div class="badge" style="left:156.2px;top:114.0px;font-family:'Liberation Serif',serif;font-weight:bold;font-size:18px;-webkit-text-stroke:0">1</div>
<div class="badge" style="left:455.5px;top:115.4px;">2</div>
<div class="badge" style="left:156.1px;top:228.5px;">3</div>
<div class="badge" style="left:158.5px;top:435.0px;">4</div>
<div class="badge" style="left:158.6px;top:576.0px;">5</div>
<div class="badge" style="left:349.5px;top:709.3px;">6</div>
<div class="badge" style="left:535.5px;top:709.0px;">7</div>
<!--CONTENT-->
</body></html>
